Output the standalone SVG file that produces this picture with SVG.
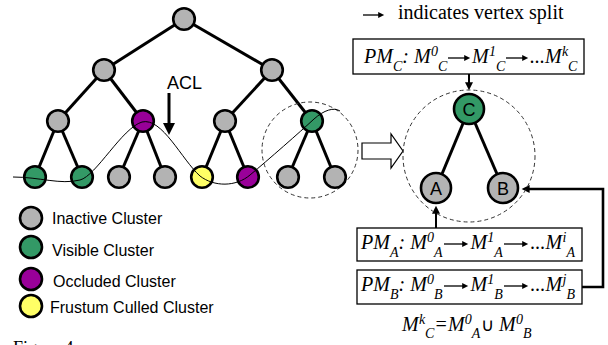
<svg xmlns="http://www.w3.org/2000/svg" width="608" height="345" viewBox="0 0 608 345">
<style>
.nd{stroke:#000;stroke-width:2.6}
.gy{fill:#B3B3B3}.gn{fill:#339966}.pu{fill:#990099}.ye{fill:#FFFF66}
.ed{stroke:#000;stroke-width:3;fill:none}
.dash{fill:none;stroke:#333;stroke-width:1;stroke-dasharray:4 3}
.sans{font-family:"Liberation Sans",Arial,sans-serif;fill:#000}
.lg{font-size:16px}
.ser{font-family:"Liberation Serif","Times New Roman",serif;fill:#000}
.it{font-family:"Liberation Serif","Times New Roman",serif;font-style:italic;fill:#000;font-size:20px}
.sb{font-size:14px}
.box{fill:#fff;stroke:#000;stroke-width:1.3}
.ta{stroke:#000;stroke-width:1.3;fill:none}
</style>
<defs>
<marker id="ah" viewBox="0 0 10 10" refX="2" refY="5" markerWidth="7" markerHeight="6" orient="auto" markerUnits="userSpaceOnUse"><path d="M0,0 L10,5 L0,10 z" fill="#000"/></marker>
<marker id="ahb" viewBox="0 0 10 10" refX="2" refY="5" markerWidth="9" markerHeight="8" orient="auto" markerUnits="userSpaceOnUse"><path d="M0,0 L10,5 L0,10 z" fill="#000"/></marker>
<marker id="ahl" viewBox="0 0 10 10" refX="2" refY="5" markerWidth="12" markerHeight="12" orient="auto" markerUnits="userSpaceOnUse"><path d="M0,0 L10,5 L0,10 z" fill="#000"/></marker>
</defs>

<g id="connectors">
<g class="ed">
<line x1="184" y1="19" x2="104" y2="70"/>
<line x1="184" y1="19" x2="272" y2="70"/>
<line x1="104" y1="70" x2="58" y2="121"/>
<line x1="104" y1="70" x2="143" y2="121"/>
<line x1="272" y1="70" x2="225" y2="121"/>
<line x1="272" y1="70" x2="312" y2="121"/>
<line x1="58" y1="121" x2="35" y2="177"/>
<line x1="58" y1="121" x2="82" y2="177"/>
<line x1="143" y1="121" x2="119" y2="177"/>
<line x1="143" y1="121" x2="165" y2="177"/>
<line x1="225" y1="121" x2="202" y2="177"/>
<line x1="225" y1="121" x2="248" y2="177"/>
<line x1="312" y1="121" x2="288" y2="177"/>
<line x1="312" y1="121" x2="335" y2="177"/>
<line x1="469" y1="109" x2="442" y2="174"/>
<line x1="469" y1="109" x2="497" y2="174"/>
</g>
<line x1="169" y1="93" x2="169" y2="125.4" stroke="#000" stroke-width="3" marker-end="url(#ahl)"/>
<polygon points="362,143 391,143 391,134 403,151 391,168 391,159 362,159" fill="#fff" stroke="#000" stroke-width="1.2"/>
<line x1="469" y1="74" x2="469" y2="83.8" stroke="#000" stroke-width="2" marker-end="url(#ahb)"/>
<line x1="436" y1="228" x2="436" y2="212.2" stroke="#000" stroke-width="2" marker-end="url(#ahb)"/>
<path d="M582,287 H603 V189 H528" fill="none" stroke="#000" stroke-width="2.6" marker-end="url(#ahb)"/>
</g>

<circle class="dash" cx="310" cy="150" r="48"/>
<circle class="dash" cx="469" cy="156" r="66"/>

<g id="tree-nodes">
<g id="n0"><circle class="nd gy" cx="184" cy="19" r="10.8"/></g>
<g id="n1"><circle class="nd gy" cx="104" cy="70" r="10.8"/></g>
<g id="n2"><circle class="nd gy" cx="272" cy="70" r="10.8"/></g>
<g id="n3"><circle class="nd gy" cx="58" cy="121" r="10.8"/></g>
<g id="n4"><circle class="nd pu" cx="143" cy="121" r="10.8"/></g>
<g id="n5"><circle class="nd gy" cx="225" cy="121" r="10.8"/></g>
<g id="n6"><circle class="nd gn" cx="312" cy="121" r="10.8"/></g>
<g id="n7"><circle class="nd gn" cx="35" cy="177" r="10.8"/></g>
<g id="n8"><circle class="nd gn" cx="82" cy="177" r="10.8"/></g>
<g id="n9"><circle class="nd gy" cx="119" cy="177" r="10.8"/></g>
<g id="n10"><circle class="nd gy" cx="165" cy="177" r="10.8"/></g>
<g id="n11"><circle class="nd ye" cx="202" cy="177" r="10.8"/></g>
<g id="n12"><circle class="nd pu" cx="248" cy="177" r="10.8"/></g>
<g id="n13"><circle class="nd gy" cx="288" cy="177" r="10.8"/></g>
<g id="n14"><circle class="nd gy" cx="335" cy="177" r="10.8"/></g>
</g>

<g id="acl">
<path d="M13,177 C40,177 60,185 80,180 C96,176 122,128 142,122 C162,117 182,160 200,176 C214,187 236,187 250,175 C268,160 300,132 314,119 C324,110 334,107 340,111" fill="none" stroke="#000" stroke-width="1"/>
<text class="sans" x="167" y="89" font-size="18">ACL</text>
</g>

<g id="legend">
<circle class="nd gy" cx="31" cy="218" r="11"/>
<text class="sans lg" x="52" y="224">Inactive Cluster</text>
<circle class="nd gn" cx="31" cy="247" r="11"/>
<text class="sans lg" x="52" y="256">Visible Cluster</text>
<circle class="nd pu" cx="31" cy="279" r="11"/>
<text class="sans lg" x="53" y="287">Occluded Cluster</text>
<circle class="nd ye" cx="31" cy="306" r="11"/>
<text class="sans lg" x="50" y="313">Frustum Culled Cluster</text>
</g>

<g id="split-legend">
<line class="ta" x1="363" y1="15" x2="379.4" y2="15" marker-end="url(#ah)"/>
<text class="ser" x="398" y="19" font-size="20">indicates vertex split</text>
</g>

<g id="nodeC">
<circle class="nd gn" cx="469" cy="109" r="15"/>
<text class="sans" x="469" y="115.5" font-size="18" text-anchor="middle">C</text>
</g>
<g id="nodeA">
<circle class="nd gy" cx="436" cy="188" r="15"/>
<text class="sans" x="436" y="194.5" font-size="18" text-anchor="middle">A</text>
</g>
<g id="nodeB">
<circle class="nd gy" cx="503" cy="188" r="15"/>
<text class="sans" x="503" y="194.5" font-size="18" text-anchor="middle">B</text>
</g>

<g id="pmC">
<rect class="box" x="353" y="39" width="231" height="35"/>
<text class="it" x="364" y="63">PM</text>
<text class="it sb" x="393" y="70.5">C</text>
<text class="it" x="402.3" y="63">:</text>
<text class="it" x="414" y="63">M</text>
<text class="it sb" x="431" y="56">0</text>
<text class="it sb" x="438" y="70.5">C</text>
<line class="ta" x1="448" y1="58" x2="465.4" y2="58" marker-end="url(#ah)"/>
<text class="it" x="472" y="63">M</text>
<text class="it sb" x="489" y="56">1</text>
<text class="it sb" x="496" y="70.5">C</text>
<line class="ta" x1="506" y1="58" x2="523.4" y2="58" marker-end="url(#ah)"/>
<text class="it" x="530" y="63">...</text>
<text class="it" x="545" y="63">M</text>
<text class="it sb" x="562" y="56">k</text>
<text class="it sb" x="568" y="70.5">C</text>
</g>

<g id="pmA">
<rect class="box" x="357" y="228" width="225" height="33"/>
<text class="it" x="361" y="249">PM</text>
<text class="it sb" x="390" y="256.5">A</text>
<text class="it" x="398.6" y="249">:</text>
<text class="it" x="410.3" y="249">M</text>
<text class="it sb" x="427" y="242">0</text>
<text class="it sb" x="434" y="256.5">A</text>
<line class="ta" x1="444" y1="244" x2="463.4" y2="244" marker-end="url(#ah)"/>
<text class="it" x="470.5" y="249">M</text>
<text class="it sb" x="487.2" y="242">1</text>
<text class="it sb" x="494.2" y="256.5">A</text>
<line class="ta" x1="504" y1="244" x2="523.4" y2="244" marker-end="url(#ah)"/>
<text class="it" x="530.5" y="249">...</text>
<text class="it" x="545.5" y="249">M</text>
<text class="it sb" x="562.5" y="242">i</text>
<text class="it sb" x="566.4" y="256.5">A</text>
</g>

<g id="pmB">
<rect class="box" x="357" y="270" width="225" height="34"/>
<text class="it" x="361" y="291">PM</text>
<text class="it sb" x="390" y="298.5">B</text>
<text class="it" x="398.6" y="291">:</text>
<text class="it" x="410.3" y="291">M</text>
<text class="it sb" x="427" y="284">0</text>
<text class="it sb" x="434" y="298.5">B</text>
<line class="ta" x1="444" y1="286" x2="463.4" y2="286" marker-end="url(#ah)"/>
<text class="it" x="470.5" y="291">M</text>
<text class="it sb" x="487.2" y="284">1</text>
<text class="it sb" x="494.2" y="298.5">B</text>
<line class="ta" x1="504" y1="286" x2="523.4" y2="286" marker-end="url(#ah)"/>
<text class="it" x="530.5" y="291">...</text>
<text class="it" x="545.5" y="291">M</text>
<text class="it sb" x="562.5" y="284">j</text>
<text class="it sb" x="566.4" y="298.5">B</text>
</g>

<g id="formula">
<text class="it" x="402" y="331">M</text>
<text class="it sb" x="419" y="324">k</text>
<text class="it sb" x="425" y="337.5">C</text>
<text class="it" x="434.3" y="331">=</text>
<text class="it" x="448" y="331">M</text>
<text class="it sb" x="464.7" y="324">0</text>
<text class="it sb" x="471.7" y="337.5">A</text>
<text class="ser" x="481" y="331" font-size="18">∪</text>
<text class="it" x="499" y="331">M</text>
<text class="it sb" x="516" y="324">0</text>
<text class="it sb" x="523" y="337.5">B</text>
</g>

<text class="ser" x="13" y="354" font-size="18">Figure 4</text>
</svg>
